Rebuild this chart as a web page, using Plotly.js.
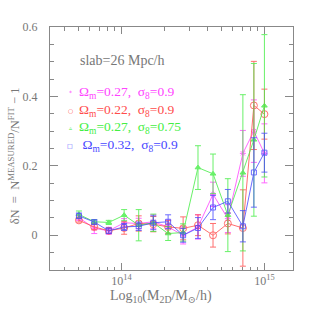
<!DOCTYPE html>
<html>
<head>
<meta charset="utf-8">
<script src="https://cdn.plot.ly/plotly-3.0.1.min.js"></script>
<style>html,body{margin:0;padding:0;background:#fff;}#chart{width:319px;height:319px;}</style>
</head>
<body>
<div id="chart"></div>
<script>
// Halo mass bins (M_sun/h)
const mass = [5.04e13, 6.45e13, 8.15e13, 1.044e14, 1.32e14, 1.67e14, 2.12e14, 2.70e14, 3.43e14, 4.37e14, 5.55e14, 7.07e14, 8.44e14, 1.0e15];

const seriesNames = [
  "Ω<sub>m</sub>=0.27,  σ<sub>8</sub>=0.9",
  "Ω<sub>m</sub>=0.22,  σ<sub>8</sub>=0.9",
  "Ω<sub>m</sub>=0.27,  σ<sub>8</sub>=0.75",
  " Ω<sub>m</sub>=0.32,  σ<sub>8</sub>=0.9"
];
const legendGlyphs = ["*", "○", "▵", "□"];

const dnMagenta = [0.051, 0.020, 0.013, 0.036, 0.034, 0.039, 0.024, 0.000, 0.024, 0.118, 0.048, 0.236, 0.300, 0.236];
const errMagenta = [0.008, 0.015, 0.010, 0.012, 0.015, 0.020, 0.020, 0.025, 0.035, 0.035, 0.040, 0.066, 0.090, 0.085];

const dnRed = [0.043, 0.024, 0.013, 0.021, 0.034, 0.032, 0.024, 0.020, 0.029, 0.000, 0.034, 0.021, 0.374, 0.349];
const errRed = [0.005, 0.008, 0.008, 0.018, 0.022, 0.022, 0.018, 0.033, 0.030, 0.034, 0.030, 0.110, 0.127, 0.072];

const dnGreen = [0.060, 0.039, 0.037, 0.058, 0.029, 0.036, 0.005, 0.008, 0.195, 0.177, 0.058, 0.180, 0.275, 0.373];
const errGreen = [0.010, 0.006, 0.006, 0.016, 0.045, 0.025, 0.020, 0.025, 0.063, 0.057, 0.105, 0.225, 0.220, 0.205];

const dnBlue = [0.056, 0.038, 0.013, 0.024, 0.026, 0.036, 0.039, 0.000, 0.021, 0.080, 0.098, 0.026, 0.181, 0.238];
const errBlue = [0.008, 0.006, 0.008, 0.010, 0.012, 0.020, 0.020, 0.020, 0.030, 0.035, 0.034, 0.045, 0.100, 0.056];

const yTickVals = [0, 0.2, 0.4, 0.6];
const yTickText = ["0", "0.2", "0.4", "0.6"];
const xTickVals = [1e14, 1e15];
const xTickText = ["10<sup>14</sup>", "10<sup>15</sup>"];
const xMinorVals = [4e13, 5e13, 6e13, 7e13, 8e13, 9e13, 2e14, 3e14, 4e14, 5e14, 6e14, 7e14, 8e14, 9e14];

const colors = ["#ff44ff", "#ff4c4c", "#44ee44", "#4848ff"];
const symbols = ["asterisk-open", "circle-open", "triangle-up", "square-open"];
const sizes = [5, 7, 5, 5];
const ys = [dnMagenta, dnRed, dnGreen, dnBlue];
const errs = [errMagenta, errRed, errGreen, errBlue];

const traces = ys.map((y, i) => ({
  x: mass, y: y, type: "scatter", mode: "lines+markers",
  line: {color: colors[i], width: 1},
  marker: {symbol: symbols[i], size: sizes[i], color: colors[i], line: {color: colors[i], width: 1}},
  error_y: {type: "data", array: errs[i], visible: true, color: colors[i], thickness: 1, width: 3},
  opacity: 0.8,
  showlegend: false
}));

const font = "Liberation Serif, DejaVu Serif, serif";
const grey = "#777";

const annotations = [
  {text: "slab=26 Mpc/h", xref: "paper", yref: "paper", x: 0.115, y: 0.864, xanchor: "left", yanchor: "middle", showarrow: false, font: {family: font, size: 14, color: grey}},
  {text: "Log<sub>10</sub>(M<sub>2D</sub>/M<sub>⊙</sub>/h)", xref: "paper", yref: "paper", x: 0.455, y: -0.107, xanchor: "center", yanchor: "middle", showarrow: false, font: {family: font, size: 14, color: grey}},
  {text: "δN  =  N<sup>MEASURED</sup>/N<sup>FIT</sup> − 1", xref: "paper", yref: "paper", x: -0.15, y: 0.47, xanchor: "center", yanchor: "middle", textangle: -90, showarrow: false, font: {family: font, size: 12.5, color: grey}}
];
const legY = [0.730, 0.658, 0.586, 0.512];
seriesNames.forEach((name, i) => {
  annotations.push({text: legendGlyphs[i], xref: "paper", yref: "paper", x: 0.0835, y: legY[i], xanchor: "center", yanchor: "middle", showarrow: false, font: {family: "DejaVu Sans", size: 6, color: colors[i]}});
  annotations.push({text: name, xref: "paper", yref: "paper", x: 0.113, y: legY[i], xanchor: "left", yanchor: "middle", showarrow: false, font: {family: font, size: 13.5, color: colors[i]}});
});

const layout = {
  width: 319, height: 319,
  margin: {l: 50, r: 26, t: 27, b: 49},
  paper_bgcolor: "#fff", plot_bgcolor: "#fff",
  showlegend: false,
  xaxis: {
    type: "log", range: [13.5, 15.2],
    tickmode: "array", tickvals: xTickVals, ticktext: xTickText,
    ticks: "inside", ticklen: 7, tickcolor: "#888", tickwidth: 1,
    minor: {tickmode: "array", tickvals: xMinorVals, ticks: "inside", ticklen: 3.5, tickcolor: "#888", showgrid: false},
    showline: true, linecolor: "#888", linewidth: 1, mirror: "allticks",
    showgrid: false, zeroline: false,
    tickfont: {family: font, size: 12, color: grey}
  },
  yaxis: {
    range: [-0.1, 0.6],
    tickmode: "array", tickvals: yTickVals, ticktext: yTickText,
    ticks: "inside", ticklen: 8, tickcolor: "#888", tickwidth: 1,
    minor: {dtick: 0.05, ticks: "inside", ticklen: 4, tickcolor: "#888", showgrid: false},
    showline: true, linecolor: "#888", linewidth: 1, mirror: "allticks",
    showgrid: false, zeroline: false,
    ticklabelstandoff: 9,
    tickfont: {family: font, size: 12, color: grey}
  },
  annotations: annotations
};

Plotly.newPlot("chart", traces, layout, {staticPlot: true, displayModeBar: false});
</script>
</body>
</html>
